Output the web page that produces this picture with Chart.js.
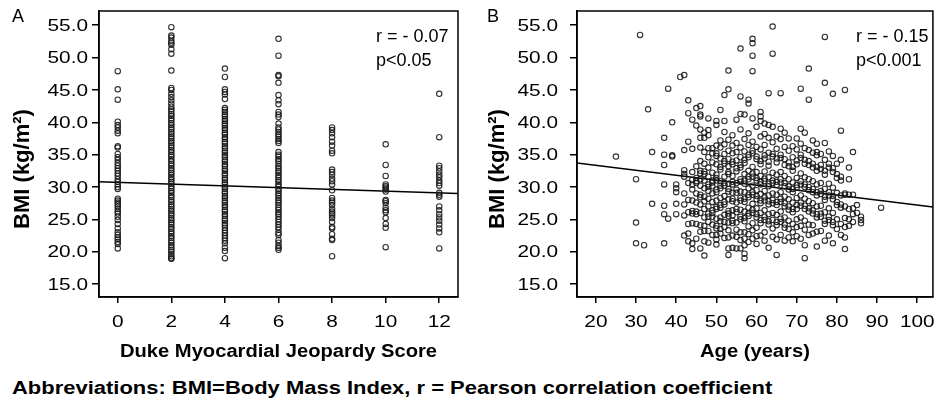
<!DOCTYPE html>
<html>
<head>
<meta charset="utf-8">
<script src="https://cdn.jsdelivr.net/npm/chart.js@4"></script>
<style>
  body { margin: 0; background: #fff; width: 938px; height: 408px; position: relative; overflow: hidden; font-family: "Liberation Sans", Arial, sans-serif; }
  .panel { position: absolute; top: 0; }
  #footer { position: absolute; left: 12px; top: 378px; font-weight: bold; font-size: 18px; color: #000; white-space: nowrap; transform: scaleX(1.22); transform-origin: 0 0; }
</style>
</head>
<body>
<div class="panel" style="left:0px"><canvas id="chartA" width="468" height="363"></canvas></div>
<div class="panel" style="left:470px"><canvas id="chartB" width="468" height="363"></canvas></div>
<div id="footer">Abbreviations: BMI=Body Mass Index, r = Pearson correlation coefficient</div>
<script>
// panel A - BMI by Duke jeopardy score
const scoreA = [0, 2, 4, 6, 8, 10, 12];
const bmiA0 = [47.9, 45.1, 43.5, 40.1, 39.6, 39.2, 38.7, 38.3, 36.3, 36.1, 35.1, 34.6, 34.2, 33.7, 33.3, 32.9, 32.5, 32.1, 31.7, 31.2, 30.8, 30.4, 30.0, 29.7, 28.2, 27.9, 27.6, 27.3, 27.0, 26.6, 26.2, 25.9, 25.4, 24.9, 24.3, 23.6, 23.0, 22.6, 22.2, 21.9, 21.5, 21.2, 20.5];
const bmiA2 = [54.7, 53.4, 53.1, 52.6, 52.3, 52.0, 51.3, 50.6, 48.0, 45.3, 45.0, 44.4, 43.9, 43.4, 42.9, 42.4, 42.0, 41.7, 41.3, 41.0, 40.6, 40.3, 39.9, 39.6, 39.2, 38.9, 38.5, 38.2, 37.8, 37.5, 37.1, 36.8, 36.4, 36.1, 35.7, 35.4, 35.0, 34.7, 34.3, 34.0, 33.6, 33.3, 32.9, 32.6, 32.2, 31.9, 31.5, 31.2, 30.8, 30.5, 30.1, 29.8, 29.4, 29.1, 28.7, 28.4, 28.0, 27.7, 27.3, 27.0, 26.6, 26.3, 25.9, 25.6, 25.2, 24.9, 24.5, 24.2, 23.8, 23.5, 23.1, 22.8, 22.4, 22.1, 21.7, 21.4, 21.0, 20.7, 20.3, 20.0, 19.6, 19.3, 19.0, 18.9];
const bmiA4 = [48.3, 47.0, 45.1, 44.7, 44.3, 43.6, 42.2, 41.9, 41.6, 41.2, 40.9, 40.5, 40.2, 39.8, 39.5, 39.1, 38.8, 38.4, 38.1, 37.7, 37.4, 37.0, 36.7, 36.3, 36.0, 35.6, 35.3, 34.9, 34.6, 34.2, 33.9, 33.5, 33.2, 32.8, 32.5, 32.1, 31.8, 31.4, 31.1, 30.7, 30.4, 30.0, 29.7, 29.3, 29.0, 28.6, 28.3, 27.9, 27.6, 27.2, 26.9, 26.5, 26.2, 25.8, 25.5, 25.1, 24.8, 24.4, 24.1, 23.7, 23.3, 22.9, 22.5, 22.1, 21.7, 21.3, 20.6, 20.1, 19.0];
const bmiA6 = [52.9, 50.3, 47.3, 47.1, 46.1, 44.2, 43.4, 42.8, 41.6, 41.2, 40.8, 39.8, 39.2, 38.9, 38.5, 38.1, 37.8, 37.4, 37.1, 36.8, 35.4, 35.0, 34.7, 34.3, 34.0, 33.6, 33.2, 32.9, 32.5, 32.2, 31.8, 31.5, 31.1, 30.8, 30.4, 30.1, 29.7, 29.4, 29.0, 28.7, 28.3, 27.9, 27.6, 27.2, 26.8, 26.5, 26.1, 25.8, 25.4, 25.0, 24.6, 24.2, 23.8, 23.4, 22.9, 22.6, 21.8, 21.4, 20.9, 20.6, 20.3];
const bmiA8 = [39.2, 38.8, 38.3, 37.7, 37.0, 36.4, 35.6, 35.2, 32.7, 32.3, 31.9, 31.3, 30.9, 30.4, 29.5, 28.3, 27.9, 27.6, 27.2, 26.6, 26.2, 25.9, 25.6, 25.2, 24.6, 23.8, 23.6, 22.7, 22.0, 21.8, 19.3];
const bmiA10 = [36.6, 33.4, 31.7, 30.4, 30.1, 29.9, 29.6, 29.3, 28.0, 27.8, 27.5, 26.8, 26.4, 26.1, 25.2, 24.3, 23.7, 20.7];
const bmiA12 = [44.4, 37.7, 33.3, 32.9, 32.4, 31.9, 31.5, 31.0, 30.6, 30.2, 29.1, 28.8, 28.5, 27.0, 26.4, 25.8, 25.3, 24.8, 24.2, 23.6, 23.0, 20.5];
const bmiA = [bmiA0, bmiA2, bmiA4, bmiA6, bmiA8, bmiA10, bmiA12];
const fitAx = [-0.7, 12.7];
const fitAy = [30.8, 29.0];

// panel B - BMI by age, one list of BMI values per age
const ageB = [25, 30, 31, 32, 33, 34, 37, 38, 39, 40, 41, 42, 43, 44, 45, 46, 47, 48, 49, 50, 51, 52, 53, 54, 55, 56, 57, 58, 59, 60, 61, 62, 63, 64, 65, 66, 67, 68, 69, 70, 71, 72, 73, 74, 75, 76, 77, 78, 79, 80, 81, 82, 83, 84, 85, 86, 91];
const bmiB = [
  [34.7],
  [31.2, 24.5, 21.3],
  [53.5],
  [21.0],
  [42.0],
  [35.4, 27.4],
  [37.6, 35.0, 33.4, 30.4, 27.1, 25.8, 21.3],
  [45.2, 25.1],
  [40.0, 34.9, 34.7],
  [30.4, 29.8, 29.2, 27.4, 25.8],
  [47.0],
  [47.3, 35.7, 32.6, 32.0, 31.6, 29.0, 27.3, 25.6, 22.5],
  [43.4, 41.4, 37.0, 30.6, 28.0, 26.1, 24.3, 22.8, 21.6],
  [40.4, 35.9, 32.3, 31.1, 30.4, 29.6, 27.9, 26.3, 25.9, 24.4, 21.3, 20.4],
  [42.2, 39.5, 33.2, 31.4, 30.9, 30.6, 29.0, 27.6, 26.2, 25.8, 24.3, 22.0],
  [42.5, 41.2, 40.9, 38.9, 37.6, 36.1, 34.0, 32.5, 32.1, 31.2, 30.2, 28.8, 28.4, 27.3, 26.0, 24.1, 23.1, 20.5],
  [38.4, 37.6, 35.4, 33.6, 32.4, 32.0, 31.0, 29.8, 28.5, 27.8, 26.6, 25.3, 24.0, 23.2, 21.6, 19.4],
  [40.6, 38.8, 38.0, 36.0, 34.6, 33.0, 31.6, 30.4, 30.0, 29.4, 28.2, 27.0, 25.9, 25.4, 24.6, 23.2, 21.4],
  [36.0, 35.2, 33.8, 32.2, 31.0, 30.7, 30.1, 29.0, 27.7, 26.4, 26.0, 25.4, 24.2, 22.6],
  [40.2, 39.6, 36.4, 35.2, 34.8, 33.5, 31.9, 31.4, 31.0, 29.6, 29.2, 27.9, 26.9, 26.6, 25.1, 24.0, 23.6, 22.6, 21.9, 21.1],
  [41.9, 37.2, 36.1, 34.4, 33.1, 32.7, 30.9, 30.2, 29.8, 28.3, 27.2, 26.8, 25.3, 24.7, 23.5, 22.8],
  [44.2, 40.2, 38.5, 36.6, 35.1, 34.0, 33.6, 31.6, 30.6, 30.2, 28.6, 27.7, 27.3, 25.7, 24.6, 23.8, 22.1],
  [48.0, 45.1, 37.3, 35.6, 34.3, 33.2, 32.3, 32.0, 30.5, 29.7, 29.3, 28.1, 26.3, 25.9, 25.5, 24.5, 23.3, 22.2, 20.5, 19.5],
  [38.0, 36.4, 35.2, 33.9, 33.5, 31.7, 30.8, 30.4, 29.1, 28.2, 27.8, 26.4, 25.6, 24.8, 24.4, 22.5, 20.6],
  [40.4, 36.8, 35.4, 34.1, 32.9, 32.4, 30.6, 29.6, 29.1, 27.6, 26.6, 26.1, 24.5, 23.4, 22.3, 20.5],
  [51.4, 44.0, 41.3, 38.9, 36.1, 34.6, 33.4, 33.0, 31.2, 30.8, 29.3, 28.3, 27.9, 26.5, 25.4, 25.0, 23.0, 21.8, 20.5],
  [41.2, 37.4, 35.5, 34.2, 33.7, 32.0, 31.0, 30.5, 29.2, 28.2, 27.7, 26.2, 25.2, 24.7, 23.0, 22.0, 21.0, 19.7, 19.0],
  [43.5, 42.9, 38.3, 36.5, 35.0, 34.6, 32.5, 31.6, 31.2, 29.8, 28.8, 28.4, 26.8, 25.9, 25.5, 23.9, 22.7, 21.5],
  [52.9, 52.2, 50.3, 47.9, 40.6, 37.0, 35.6, 35.2, 33.1, 32.1, 31.6, 30.2, 29.2, 28.8, 27.4, 26.5, 26.0, 24.4, 23.3, 22.0],
  [39.3, 36.2, 34.7, 34.3, 32.3, 31.4, 31.0, 29.5, 28.6, 28.1, 26.7, 25.8, 25.3, 23.7, 22.4, 21.2],
  [41.6, 40.9, 40.2, 37.8, 35.8, 34.0, 33.5, 31.7, 30.8, 30.4, 28.9, 27.9, 27.5, 26.0, 24.9, 24.4, 22.5],
  [39.8, 38.2, 36.5, 34.9, 34.4, 32.4, 31.3, 30.9, 29.4, 28.4, 27.9, 26.4, 25.4, 24.9, 23.0, 21.7],
  [44.5, 39.6, 37.6, 35.3, 33.9, 33.3, 31.5, 30.5, 30.1, 28.7, 27.8, 27.3, 25.8, 24.7, 24.2, 20.6],
  [54.8, 50.6, 39.3, 36.9, 35.1, 34.7, 32.2, 31.0, 30.6, 29.0, 28.0, 27.5, 26.0, 24.9, 23.6, 22.3],
  [37.8, 35.9, 34.4, 33.8, 31.9, 30.8, 30.3, 28.8, 27.7, 27.2, 25.7, 24.6, 24.1, 21.9, 19.5],
  [44.5, 39.0, 37.4, 35.0, 34.5, 32.3, 31.2, 30.7, 29.2, 28.2, 27.7, 26.2, 25.1, 24.6, 22.6],
  [38.4, 36.2, 34.3, 33.4, 31.7, 30.6, 30.1, 28.5, 27.5, 27.0, 25.3, 24.2, 23.7, 21.7],
  [37.5, 35.6, 33.8, 33.2, 31.2, 30.1, 29.6, 28.1, 27.0, 26.5, 24.8, 23.5, 22.2],
  [36.3, 34.6, 33.1, 32.5, 30.7, 29.7, 29.2, 27.6, 26.6, 26.1, 24.3, 23.0, 21.6],
  [37.5, 35.8, 34.1, 33.5, 31.4, 30.3, 29.9, 28.3, 27.2, 26.6, 25.0, 23.8, 22.4],
  [45.2, 39.0, 36.7, 35.0, 34.5, 32.1, 30.9, 30.4, 28.7, 27.6, 27.1, 25.3, 24.0, 22.0],
  [38.4, 36.0, 34.2, 33.6, 31.5, 30.4, 30.0, 28.2, 27.1, 26.6, 24.8, 23.4, 21.0, 19.0],
  [48.3, 43.5, 35.7, 34.0, 33.4, 31.2, 30.0, 29.5, 27.8, 26.7, 26.2, 24.2, 22.6],
  [37.2, 35.3, 33.6, 33.0, 30.9, 29.7, 29.2, 27.5, 26.4, 25.9, 24.1, 22.8],
  [36.7, 35.4, 34.9, 33.1, 32.5, 30.4, 29.2, 28.7, 27.0, 25.8, 25.3, 23.1, 20.8],
  [35.1, 33.4, 32.8, 30.6, 29.4, 28.9, 27.1, 25.9, 25.4, 23.2],
  [53.2, 46.1, 36.8, 34.2, 32.5, 31.9, 29.7, 28.5, 28.0, 26.1, 24.8, 24.3, 21.7],
  [35.5, 33.6, 33.0, 30.5, 29.2, 28.7, 26.7, 25.4, 24.9, 22.5],
  [44.4, 34.8, 32.9, 32.3, 29.9, 28.6, 28.1, 26.0, 24.6, 24.1, 21.3],
  [33.6, 32.0, 31.4, 29.1, 27.7, 27.2, 25.0, 23.5],
  [38.7, 34.2, 31.6, 31.0, 28.7, 27.3, 26.8, 24.3, 22.6],
  [45.0, 29.0, 28.8, 27.0, 25.2, 23.8, 22.2, 20.4],
  [33.0, 31.2, 28.8, 26.6, 25.0, 24.0],
  [35.4, 28.8, 26.7, 25.8, 24.6],
  [27.2, 26.0],
  [25.4, 24.9, 24.4],
  [26.8]
];
const fitBx = [15.3, 103.9];
const fitBy = [33.7, 26.9];

const bmiTicks = [15, 20, 25, 30, 35, 40, 45, 50, 55];
const scoreTicks = [0, 2, 4, 6, 8, 10, 12];
const ageTicks = [20, 30, 40, 50, 60, 70, 80, 90, 100];

Chart.defaults.font.family = '"Liberation Sans", Arial, sans-serif';
Chart.defaults.color = '#000';

// the original lettering is wide, so text is drawn with a small horizontal stretch
function wideText(ctx, text, x, y, sx, align) {
  ctx.save();
  ctx.translate(x, y);
  ctx.scale(sx, 1);
  ctx.textAlign = align;
  ctx.fillText(text, 0, 0);
  ctx.restore();
}

const framePlugin = {
  id: 'frame',
  afterDraw(chart, args, o) {
    const ctx = chart.ctx;
    const a = chart.chartArea;
    const xs = chart.scales.x, ys = chart.scales.y;
    ctx.save();
    ctx.strokeStyle = '#000';
    ctx.lineWidth = 1.5;
    ctx.strokeRect(a.left, a.top, a.right - a.left, a.bottom - a.top);
    ctx.fillStyle = '#000';

    // tick labels
    ctx.font = '16px "Liberation Sans"';
    ctx.textBaseline = 'alphabetic';
    xs.ticks.forEach(t => wideText(ctx, String(t.value), xs.getPixelForValue(t.value), 327, 1.3, 'center'));
    ys.ticks.forEach(t => wideText(ctx, t.value.toFixed(1), 88, ys.getPixelForValue(t.value) + 5.7, 1.3, 'right'));

    // x title
    ctx.font = 'bold 18px "Liberation Sans"';
    wideText(ctx, o.xTitle, (a.left + a.right) / 2, 357, 1.12, 'center');

    // letter and stats
    ctx.font = '18px "Liberation Sans"';
    ctx.textBaseline = 'middle';
    ctx.textAlign = 'left';
    ctx.fillText(o.letter, o.letterX, 17);
    ctx.fillText(o.r, o.noteX, 37);
    ctx.fillText(o.p, o.noteX, 61);

    // y title
    ctx.translate(o.titleX, 169);
    ctx.rotate(-Math.PI / 2);
    ctx.textAlign = 'center';
    ctx.font = 'bold 22px "Liberation Sans"';
    ctx.fillText('BMI (kg/m²)', 0, 0);
    ctx.restore();
  }
};

function makeChart(id, pts, fx, fy, xMin, xMax, xTicks, yWidth, padRight, notes) {
  let fitPts = fx.map((v, i) => ({x: v, y: fy[i]}));
  return new Chart(document.getElementById(id), {
    type: 'scatter',
    data: {
      datasets: [{
        data: pts,
        pointRadius: 2.7,
        pointBorderWidth: 1.1,
        borderColor: 'rgba(25,25,25,0.9)',
        backgroundColor: 'rgba(0,0,0,0)'
      }, {
        data: fitPts,
        showLine: true,
        pointRadius: 0,
        borderColor: '#000',
        borderWidth: 1.6
      }]
    },
    options: {
      responsive: false,
      devicePixelRatio: 1,
      animation: false,
      events: [],
      layout: { padding: { top: 11, right: padRight, left: 0, bottom: 0 } },
      plugins: { legend: { display: false }, tooltip: { enabled: false }, frame: notes },
      scales: {
        x: {
          min: xMin, max: xMax,
          afterBuildTicks: s => { s.ticks = xTicks.map(v => ({value: v})); },
          afterFit: s => { s.height = 66; },
          ticks: { display: false },
          grid: { drawOnChartArea: false, tickLength: 6, color: '#000', lineWidth: 1.5 },
          border: { color: '#000', width: 1.5 }
        },
        y: {
          min: 13, max: 57.2,
          afterBuildTicks: s => { s.ticks = bmiTicks.map(v => ({value: v})); },
          afterFit: s => { s.width = yWidth; },
          ticks: { display: false },
          grid: { drawOnChartArea: false, tickLength: 7, color: '#000', lineWidth: 1.5 },
          border: { color: '#000', width: 1.5 }
        }
      }
    },
    plugins: [framePlugin]
  });
}

let ptsA = [];
scoreA.forEach((s, i) => bmiA[i].forEach(b => ptsA.push({x: s, y: b})));
let ptsB = [];
ageB.forEach((a, i) => bmiB[i].forEach(b => ptsB.push({x: a, y: b})));

makeChart('chartA', ptsA, fitAx, fitAy, -0.7, 12.7, scoreTicks, 99, 10,
  { letter: 'A', letterX: 12, r: 'r = - 0.07', p: 'p<0.05', noteX: 376, titleX: 23, xTitle: 'Duke Myocardial Jeopardy Score' });
makeChart('chartB', ptsB, fitBx, fitBy, 15.3, 103.9, ageTicks, 107, 2,
  { letter: 'B', letterX: 17, r: 'r = - 0.15', p: 'p<0.001', noteX: 386, titleX: 28, xTitle: 'Age (years)' });
</script>
</body>
</html>
